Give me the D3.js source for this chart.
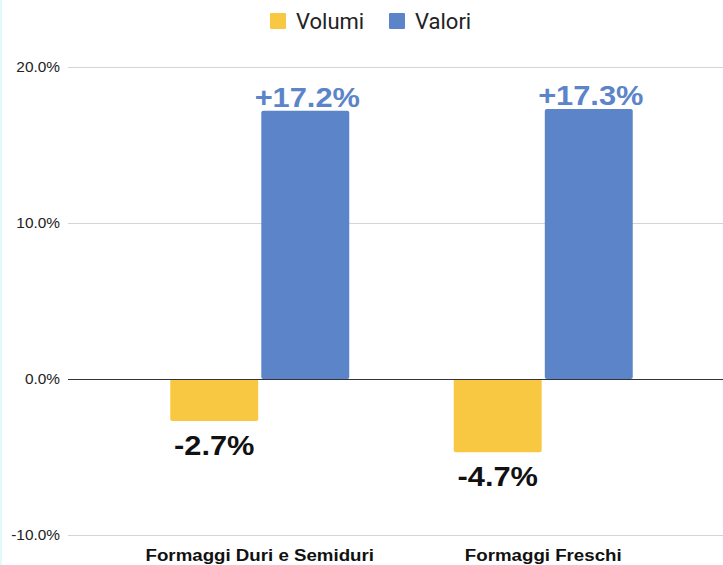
<!DOCTYPE html>
<html>
<head>
<meta charset="utf-8">
<script src="https://cdn.jsdelivr.net/npm/d3@7"></script>
<style>
  html, body { margin: 0; padding: 0; background: #fff; }
  svg { display: block; }
</style>
</head>
<body>
<div id="chart"></div>
<script>
const categories = ["Formaggi Duri e Semiduri", "Formaggi Freschi"];
const seriesNames = ["Volumi", "Valori"];
const volumi = [-2.7, -4.7];
const valori = [17.2, 17.3];
const yTicks = [-10, 0, 10, 20];
const colors = { Volumi: "#f9c842", Valori: "#5b84c9" };

const width = 723;
const height = 565;
// the source picture looks stretched a bit horizontally
const sx = 1.1;

const svg = d3.select("#chart")
  .append("svg")
  .attr("width", width)
  .attr("height", height);

// thin border on the left edge
svg.append("rect")
  .attr("x", 0).attr("y", 0)
  .attr("width", 2).attr("height", height)
  .attr("fill", "#e3f8fd");

const y = d3.scaleLinear().domain([-10, 20]).range([535, 67]);
const x0 = d3.scaleBand().domain(categories).range([118, 685]);
const x1 = d3.scaleBand().domain(seriesNames).range([0, 179]).paddingInner(0.034);

// gridlines
svg.append("g")
  .selectAll("line")
  .data(yTicks.filter(t => t !== 0))
  .enter()
  .append("line")
  .attr("x1", 68)
  .attr("x2", width)
  .attr("y1", d => y(d) + 0.5)
  .attr("y2", d => y(d) + 0.5)
  .attr("stroke", "#d4d4d4")
  .attr("stroke-width", 1);

// tick labels
svg.append("g")
  .selectAll("text")
  .data(yTicks)
  .enter()
  .append("text")
  .attr("transform", d => `translate(60,${y(d) + 5}) scale(${sx},1)`)
  .attr("text-anchor", "end")
  .attr("font-family", "Liberation Sans, Arial, sans-serif")
  .attr("font-size", "14px")
  .attr("fill", "#222")
  .text(d => d.toFixed(1) + "%");

const rows = categories.map((c, i) => ({
  cat: c,
  values: [
    { series: "Volumi", value: volumi[i] },
    { series: "Valori", value: valori[i] }
  ]
}));

const groups = svg.append("g")
  .selectAll("g")
  .data(rows)
  .enter()
  .append("g")
  .attr("transform", d => `translate(${x0(d.cat) + (x0.bandwidth() - 179) / 2},0)`);

groups.selectAll("rect")
  .data(d => d.values)
  .enter()
  .append("rect")
  .attr("x", d => x1(d.series))
  .attr("y", d => y(Math.max(0, d.value)))
  .attr("width", x1.bandwidth())
  .attr("height", d => Math.abs(y(d.value) - y(0)))
  .attr("rx", 2)
  .attr("fill", d => colors[d.series]);

// value labels
groups.selectAll("text")
  .data(d => d.values)
  .enter()
  .append("text")
  .attr("transform", d => {
    const tx = x1(d.series) + x1.bandwidth() / 2 + (d.value >= 0 ? 2 : 0);
    const ty = d.value >= 0 ? y(d.value) - 4 : y(d.value) + 34;
    return `translate(${tx},${ty}) scale(${sx},1)`;
  })
  .attr("text-anchor", "middle")
  .attr("font-family", "Liberation Sans, Arial, sans-serif")
  .attr("font-weight", "bold")
  .attr("font-size", "28px")
  .attr("fill", d => d.value >= 0 ? colors[d.series] : "#111")
  .text(d => (d.value > 0 ? "+" : "") + d.value.toFixed(1) + "%");

// zero line
svg.append("line")
  .attr("x1", 68)
  .attr("x2", width)
  .attr("y1", y(0) + 0.5)
  .attr("y2", y(0) + 0.5)
  .attr("stroke", "#333")
  .attr("stroke-width", 1.2);

// category labels
svg.append("g")
  .selectAll("text")
  .data(categories)
  .enter()
  .append("text")
  .attr("transform", d => `translate(${x0(d) + x0.bandwidth() / 2},561) scale(${sx},1)`)
  .attr("text-anchor", "middle")
  .attr("font-family", "Liberation Sans, Arial, sans-serif")
  .attr("font-weight", "bold")
  .attr("font-size", "17px")
  .attr("fill", "#111")
  .text(d => d);

// legend
const legendX = [270, 389];
const legend = svg.append("g")
  .selectAll("g")
  .data(seriesNames)
  .enter()
  .append("g")
  .attr("transform", (d, i) => `translate(${legendX[i]},13)`);

legend.append("rect")
  .attr("width", 16)
  .attr("height", 16)
  .attr("rx", 1)
  .attr("fill", d => colors[d]);

legend.append("text")
  .attr("x", 26)
  .attr("y", 16)
  .attr("font-family", "Roboto, Liberation Sans, Arial, sans-serif")
  .attr("font-size", "22px")
  .attr("fill", "#222")
  .text(d => d);
</script>
</body>
</html>
